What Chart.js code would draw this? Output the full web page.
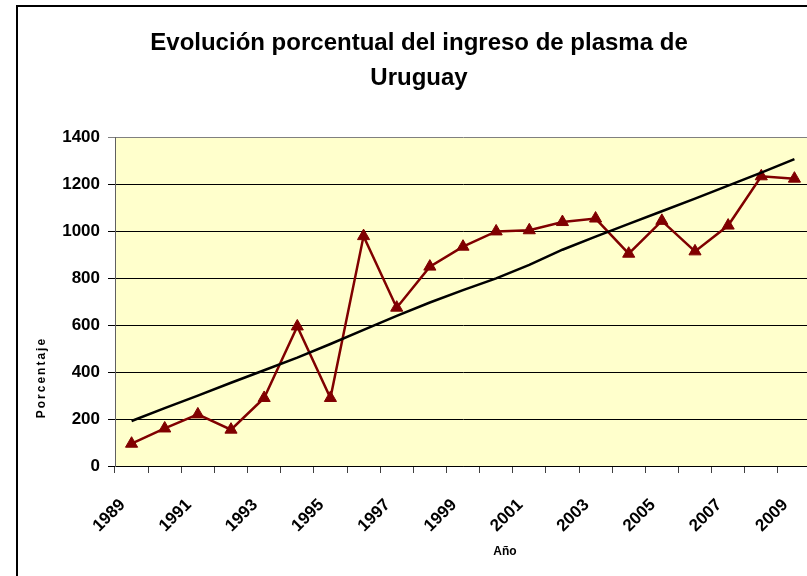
<!DOCTYPE html>
<html>
<head>
<meta charset="utf-8">
<script src="https://cdn.jsdelivr.net/npm/chart.js@4/dist/chart.umd.min.js"></script>
<style>
  html, body { margin: 0; padding: 0; background: #ffffff; overflow: hidden; width: 807px; height: 576px; }
  #wrap { position: relative; width: 807px; height: 576px; overflow: hidden; }
  #frame { position: absolute; left: 16px; top: 5px; width: 900px; height: 700px; border-left: 2px solid #000; border-top: 2px solid #000; }
  #c { position: absolute; left: 0; top: 0; }
</style>
</head>
<body>
<div id="wrap">
  <div id="frame"></div>
  <canvas id="c" width="840" height="576"></canvas>
</div>
<script>
const titleLines = ['Evolución porcentual del ingreso de plasma de', 'Uruguay'];
const yTitle = 'Porcentaje';
const xTitle = 'Año';
const years = ['1989','1990','1991','1992','1993','1994','1995','1996','1997','1998','1999',
               '2000','2001','2002','2003','2004','2005','2006','2007','2008','2009'];
const ingreso = [95, 160, 220, 155, 290, 595, 290, 980, 675, 850, 935,
                 1000, 1005, 1040, 1055, 905, 1045, 915, 1025, 1235, 1225];
const tendencia = [192, 247, 300, 355, 408, 462, 520, 580, 640, 697, 750,
                   800, 857, 922, 978, 1032, 1086, 1140, 1195, 1251, 1308];
const yTicks = [0, 200, 400, 600, 800, 1000, 1200, 1400];

const FONT = "'Liberation Sans', Arial, sans-serif";

const bgPlugin = {
  id: 'plotBg',
  beforeDraw(chart) {
    const a = chart.chartArea, ctx = chart.ctx;
    ctx.save();
    ctx.fillStyle = '#FFFFCC';
    ctx.fillRect(a.left, a.top, a.right - a.left, a.bottom - a.top);
    ctx.restore();
  }
};

const axisTitles = {
  id: 'axisTitles',
  afterDraw(chart) {
    const a = chart.chartArea, ctx = chart.ctx;
    ctx.save();
    ctx.fillStyle = '#000';
    ctx.font = "bold 12px " + FONT;
    ctx.textAlign = 'center';
    ctx.textBaseline = 'middle';
    ctx.save();
    ctx.translate(a.left - 73, a.top + 240);
    ctx.rotate(-Math.PI / 2);
    ctx.letterSpacing = '2px';
    ctx.fillText(yTitle, 0, 0);
    ctx.restore();
    ctx.fillText(xTitle, a.left + 390, a.bottom + 86);
    ctx.restore();
  }
};

new Chart(document.getElementById('c'), {
  type: 'line',
  data: {
    labels: years,
    datasets: [
      {
        label: 'Tendencia',
        data: tendencia,
        borderColor: '#000000',
        borderWidth: 2.5,
        pointRadius: 0,
        fill: false,
        tension: 0
      },
      {
        label: 'Ingreso de plasma',
        data: ingreso,
        borderColor: '#800000',
        backgroundColor: '#800000',
        borderWidth: 2.5,
        pointStyle: 'triangle',
        pointRadius: 7,
        pointBorderWidth: 1,
        pointBackgroundColor: '#800000',
        pointBorderColor: '#800000',
        fill: false,
        tension: 0
      }
    ]
  },
  options: {
    responsive: false,
    animation: false,
    devicePixelRatio: 1,
    layout: { padding: { left: 27, right: 29, top: 0, bottom: 0 } },
    plugins: {
      legend: { display: false },
      tooltip: { enabled: false },
      title: {
        display: true,
        text: titleLines,
        color: '#000',
        font: { family: FONT, size: 24, weight: 'bold', lineHeight: 1.45 },
        padding: { top: 26, bottom: 42 }
      }
    },
    scales: {
      x: {
        type: 'category',
        offset: true,
        grid: {
          display: true,
          drawOnChartArea: false,
          drawTicks: true,
          tickLength: 7,
          offset: true,
          color: '#404040'
        },
        border: { display: true, color: '#000000', width: 1 },
        ticks: {
          autoSkip: false,
          minRotation: 45,
          maxRotation: 45,
          padding: 22,
          labelOffset: -9,
          color: '#000',
          font: { family: FONT, size: 17, weight: 'bold' },
          callback: function(v, i) { return i % 2 === 0 ? years[i] : ''; }
        },
        afterFit(scale) { scale.height = 110; }
      },
      y: {
        min: 0,
        max: 1400,
        afterBuildTicks(scale) { scale.ticks = yTicks.map(v => ({ value: v })); },
        grid: {
          color: (ctx) => (ctx.tick && ctx.tick.value === 1400) ? '#808080' : '#000000',
          lineWidth: 1,
          tickLength: 7,
          drawTicks: true
        },
        border: { display: true, color: '#606060', width: 1 },
        ticks: {
          padding: 8,
          color: '#000',
          font: { family: FONT, size: 17, weight: 'bold' },
          callback: function(v) { return String(v); }
        },
        afterFit(scale) { scale.width = 88; }
      }
    }
  },
  plugins: [bgPlugin, axisTitles]
});
</script>
</body>
</html>
